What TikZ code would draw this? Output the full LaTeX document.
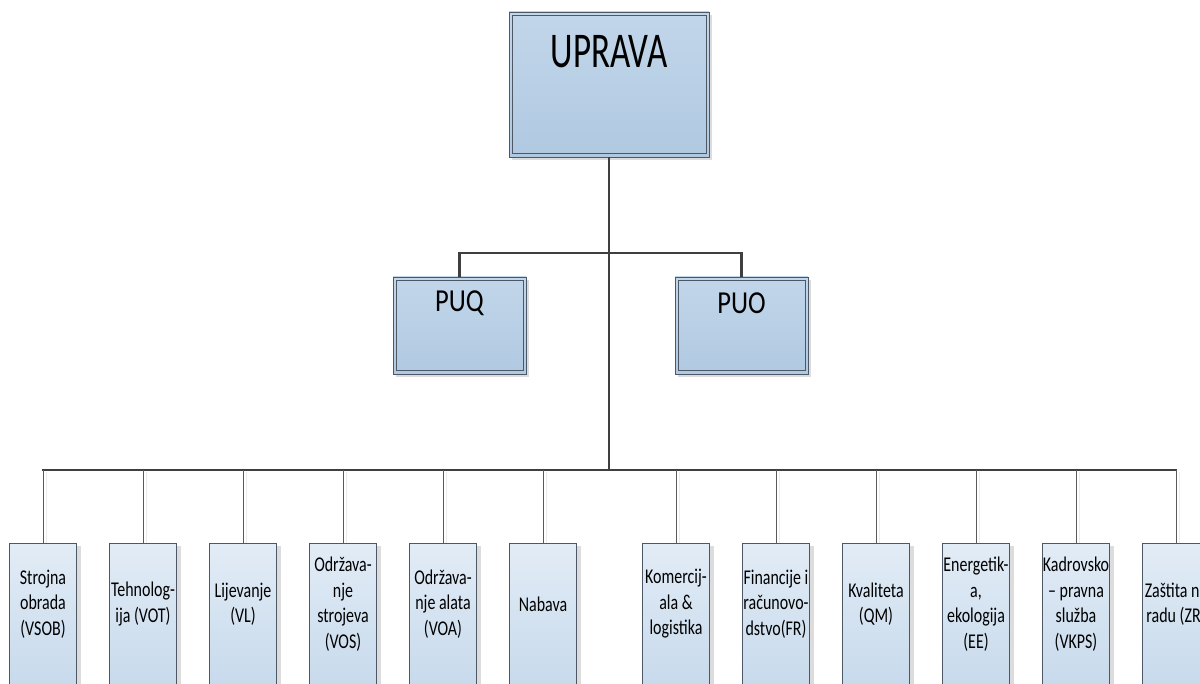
\documentclass[tikz,border=0pt]{standalone}
\usepackage{fontspec}
\setmainfont{Carlito}
\newfontfamily\fup[FakeStretch=0.70]{Carlito}
\newfontfamily\fpu[FakeStretch=0.83]{Carlito}
\newfontfamily\fbt[FakeStretch=0.76]{Carlito}
\definecolor{boxline}{HTML}{4D5866}
\definecolor{topA}{HTML}{C2D6EA}
\definecolor{topB}{HTML}{B0C9E1}
\definecolor{botA}{HTML}{E2ECF6}
\definecolor{botB}{HTML}{C2D6EA}
\definecolor{trunkc}{HTML}{3F3F3F}
\definecolor{dropc}{HTML}{5A5A5A}
\definecolor{shadowc}{HTML}{DCDCDC}
\definecolor{lineshadow}{HTML}{EBEBEB}
\tikzset{
  topbox/.style={draw=boxline, line width=0.9pt, top color=topA, bottom color=topB, inner sep=0pt},
  botbox/.style={draw=boxline, line width=0.9pt, top color=botA, bottom color=botB, inner sep=0pt,
                 minimum width=67pt, minimum height=170pt, anchor=north},
  shadowbox/.style={fill=shadowc, draw=none},
  trunk/.style={draw=trunkc, line width=2.6pt},
  drop/.style={draw=dropc, line width=0.9pt},
  dropshadow/.style={draw=lineshadow, line width=0.9pt},
  bigtext/.style={font=\fup\fontsize{50}{58}\selectfont, inner sep=0pt},
  midtext/.style={font=\fpu\fontsize{32}{38}\selectfont, inner sep=0pt},
  smalltext/.style={font=\fbt\fontsize{21}{25.5}\selectfont, align=center, inner sep=0pt},
}
\begin{document}
\begin{tikzpicture}[x=1pt,y=-1pt]
\useasboundingbox (0,0) rectangle (1200,684);
\clip (0,0) rectangle (1200,684);

% junction coordinates
\coordinate (j1) at (609,253);
\coordinate (hL) at (43,470);
\coordinate (hR) at (1176,470);
\coordinate (j2) at (609,470);

% shadows of top boxes
\fill[shadowbox] (512,15) rectangle (712,160);
\fill[shadowbox] (396,280) rectangle (529,377);
\fill[shadowbox] (678,280) rectangle (811,377);

% top boxes
\node[topbox, minimum width=200pt, minimum height=145pt] (upr) at (609,84.5) {};
\draw[boxline, line width=0.9pt] ([shift={(3.5,3.5)}]upr.north west) rectangle ([shift={(-3.5,-3.5)}]upr.south east);
\node[bigtext] (uprt) at (609,52) {UPRAVA};

\node[topbox, minimum width=133pt, minimum height=97pt] (puq) at (459.5,325.5) {};
\draw[boxline, line width=0.9pt] ([shift={(3.5,3.5)}]puq.north west) rectangle ([shift={(-3.5,-3.5)}]puq.south east);
\node[midtext] (puqt) at (459.5,303) {PUQ};

\node[topbox, minimum width=133pt, minimum height=97pt] (puo) at (741.5,325.5) {};
\draw[boxline, line width=0.9pt] ([shift={(3.5,3.5)}]puo.north west) rectangle ([shift={(-3.5,-3.5)}]puo.south east);
\node[midtext] (puot) at (741.5,303) {PUO};

% trunk connectors
\draw[trunk] (upr.south) -- (j2);
\draw[trunk] (puq.north) |- (j1) -| (puo.north);
\draw[trunk, line cap=rect] (hL) -- (hR);

% bottom boxes
\foreach \i/\cx/\txt in {
  1/43/{Strojna\\obrada\\(VSOB)},
  2/143/{Tehnolog-\\ija (VOT)},
  3/243/{Lijevanje\\(VL)},
  4/343/{Održava-\\nje\\strojeva\\(VOS)},
  5/443/{Održava-\\nje alata\\(VOA)},
  6/543/{Nabava},
  7/676/{Komercij-\\ala \&\\logistika},
  8/776/{Financije i\\računovo-\\dstvo(FR)},
  9/876/{Kvaliteta\\(QM)},
  10/976/{Energetik-\\a,\\ekologija\\(EE)},
  11/1076/{Kadrovsko\\– pravna\\služba\\(VKPS)},
  12/1176/{Zaštita na\\radu (ZR)}} {
  \fill[shadowbox] (\cx-30.5,546) rectangle (\cx+37.5,720);
  \node[botbox] (b\i) at (\cx,543) {};
  \node[smalltext] (t\i) at (\cx,604) {\txt};
  \draw[dropshadow] ([xshift=3pt]b\i.north |- hL) ++(0,2) -- ([xshift=3pt]b\i.north);
  \draw[drop] (b\i.north) -- (b\i.north |- hL);
}
\end{tikzpicture}
\end{document}
